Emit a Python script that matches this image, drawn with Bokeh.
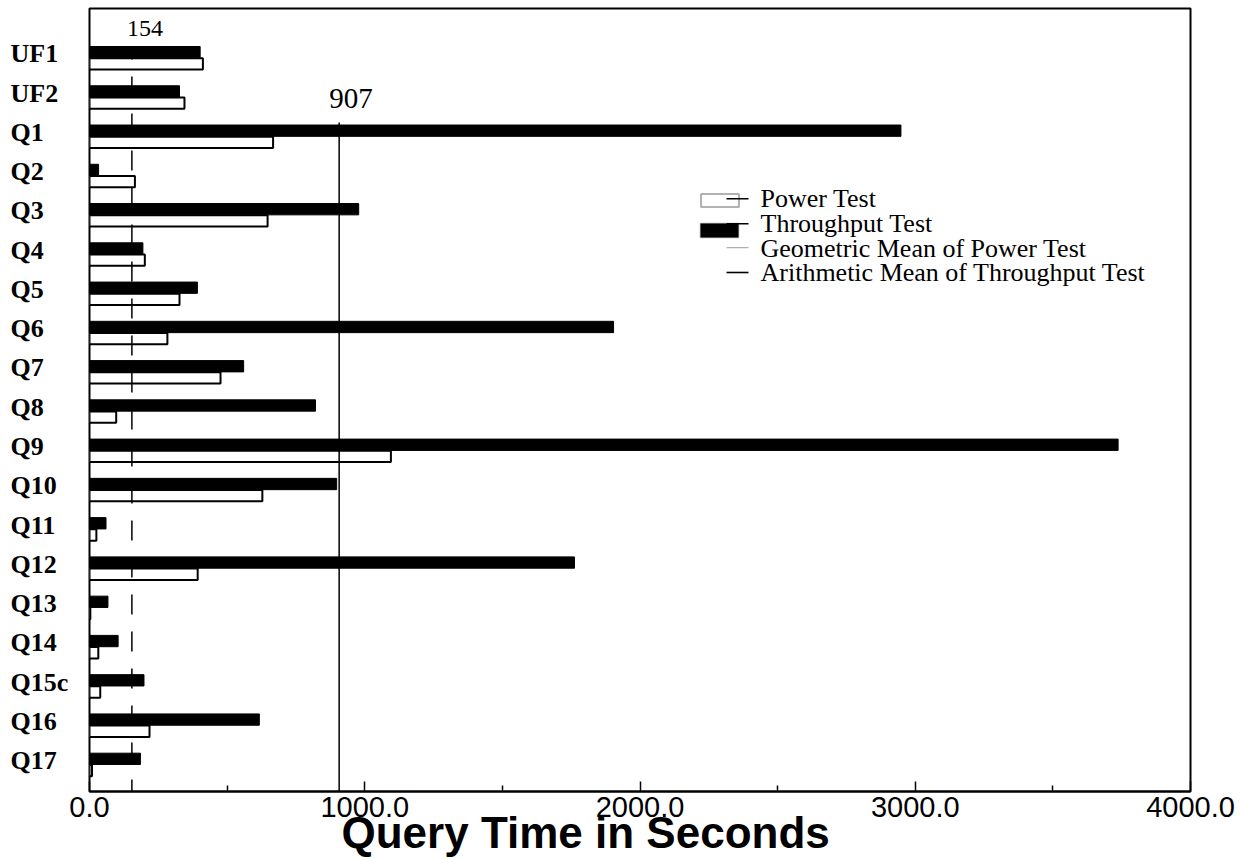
from bokeh.plotting import figure
from bokeh.layouts import row
from bokeh.models import (Range1d, FixedTicker, Label, ColumnDataSource,
                          BoxAnnotation, Title)
from bokeh.transform import dodge
from bokeh.embed import file_html
from bokeh.resources import INLINE
from bokeh.core.properties import value

# ---------------- data ----------------
categories = ["UF1", "UF2", "Q1", "Q2", "Q3", "Q4", "Q5", "Q6", "Q7", "Q8", "Q9",
              "Q10", "Q11", "Q12", "Q13", "Q14", "Q15c", "Q16", "Q17"]
power_test = [412, 345, 667, 165, 647, 201, 327, 283, 476, 97, 1095,
              628, 25, 393, 3, 32, 39, 218, 9]
throughput_test = [402, 327, 2948, 33, 978, 194, 392, 1904, 560, 821, 3737,
                   898, 60, 1762, 67, 104, 198, 617, 185]
geo_mean_power = 154
arith_mean_throughput = 907
x_ticks = [0, 1000, 2000, 3000, 4000]
x_tick_labels = ["0.0", "1000.0", "2000.0", "3000.0", "4000.0"]
x_minor_ticks = [500, 1500, 2500, 3500]
legend_labels = ["Power Test", "Throughput Test", "Geometric Mean of Power Test",
                 "Arithmetic Mean of Throughput Test"]
x_axis_title = "Query Time in Seconds"

n = len(categories)
src = ColumnDataSource(dict(pos=list(range(n)), cat=categories,
                            power=power_test, thr=throughput_test))

BAR_H = 0.288
H = 859
TOP, BOTTOM = 8, 68
LAB_W = 68
y_range = Range1d(18.688, -1.256)

# ---------- category label strip (left aligned labels) ----------
lab = figure(width=LAB_W, height=H, output_backend="svg", toolbar_location=None,
             x_range=Range1d(0, LAB_W), y_range=y_range,
             min_border_left=0, min_border_right=0, min_border_top=TOP,
             min_border_bottom=BOTTOM)
lab.axis.visible = False
lab.grid.visible = False
lab.outline_line_color = None
lab.text(x=10, y=dodge("pos", -0.1, range=y_range), text="cat", source=src,
         text_font=value("Liberation Serif"), text_font_style="bold",
         text_font_size="26px", text_color="black", text_align="left",
         text_baseline="alphabetic")

# ---------- main chart ----------
p = figure(width=1247 - LAB_W, height=H, output_backend="svg", toolbar_location=None,
           x_range=Range1d(0, 4000), y_range=y_range,
           min_border_left=21, min_border_right=57, min_border_top=TOP,
           min_border_bottom=BOTTOM)
p.xgrid.visible = False
p.ygrid.visible = False
p.yaxis.visible = False
p.outline_line_color = "black"
p.outline_line_width = 2

ax = p.xaxis[0]
ax.ticker = FixedTicker(ticks=x_ticks, minor_ticks=x_minor_ticks)
ax.major_label_overrides = dict(zip(x_ticks, x_tick_labels))
ax.major_tick_in = 10
ax.major_tick_out = 0
ax.minor_tick_in = 6
ax.minor_tick_out = 0
ax.major_tick_line_color = "black"
ax.minor_tick_line_color = "black"
ax.major_tick_line_width = 1.5
ax.minor_tick_line_width = 1.5
ax.axis_line_color = "black"
ax.axis_line_width = 2
ax.major_label_text_font = "Liberation Sans"
ax.major_label_text_font_size = "29px"
ax.major_label_text_color = "black"
ax.major_label_standoff = 5

# axis title as a Title in the below panel, shifted like the reference
t = Title(text=x_axis_title, align="left", vertical_align="top", offset=252,
          text_font="Liberation Sans", text_font_style="bold",
          text_font_size="44px", text_color="black")
try:
    t.standoff = -24
except Exception:
    t.standoff = 0
p.add_layout(t, "below")

# bars
p.hbar(y=dodge("pos", -BAR_H / 2, range=y_range), left=0, right="thr", height=BAR_H,
       fill_color="black", line_color="black", line_width=1, source=src)
p.hbar(y=dodge("pos", BAR_H / 2 + 0.01, range=y_range), left=0, right="power",
       height=BAR_H, fill_color="white", line_color="black", line_width=2, source=src)

# mean lines
p.segment(x0=[geo_mean_power], x1=[geo_mean_power], y0=[-BAR_H], y1=[18.688],
          line_color="black", line_width=1.5, line_dash="20 17", line_dash_offset=7)
p.segment(x0=[arith_mean_throughput], x1=[arith_mean_throughput], y0=[1.65],
          y1=[18.688], line_color="black", line_width=1.5)

p.add_layout(Label(x=geo_mean_power, y=-0.746, text=str(geo_mean_power),
                   text_font="Liberation Serif", text_font_size="24px",
                   text_color="black", text_align="left", text_baseline="alphabetic",
                   x_offset=-5))
p.add_layout(Label(x=arith_mean_throughput, y=1.037, text=str(arith_mean_throughput),
                   text_font="Liberation Serif", text_font_size="29px",
                   text_color="black", text_align="left", text_baseline="alphabetic",
                   x_offset=-10))

# legend (frame-relative screen coordinates)
FL, FB = 89, 791
def sy(py):
    return FB - py

def box(l, r, t_, b, fill, line=None, lw=1.5):
    return BoxAnnotation(left=l - FL, right=r - FL, top=sy(t_), bottom=sy(b),
                         left_units="screen", right_units="screen",
                         top_units="screen", bottom_units="screen",
                         fill_color=fill, fill_alpha=1.0,
                         line_color=line, line_width=lw, level="overlay")

p.add_layout(box(700.5, 738.5, 193.5, 206.5, "white", "black", 2))
p.add_layout(box(726, 748, 197.5, 199, "black"))
p.add_layout(box(700, 738, 223, 237, "black", "black"))
p.add_layout(box(726, 748, 222.5, 224, "black"))
p.add_layout(box(726, 748, 246.5, 247.7, "#b0b0b0"))
p.add_layout(box(726, 748, 271.2, 272.8, "black"))

for txt, base in zip(legend_labels, [198, 222.7, 247.5, 272.2]):
    p.add_layout(Label(x=760 - FL, y=sy(base), x_units="screen", y_units="screen",
                       text=txt, text_font="Liberation Serif", text_font_size="26px",
                       text_color="black", text_align="left",
                       text_baseline="alphabetic"))

layout = row(lab, p)
open("out.html", "w").write(file_html(layout, INLINE))
